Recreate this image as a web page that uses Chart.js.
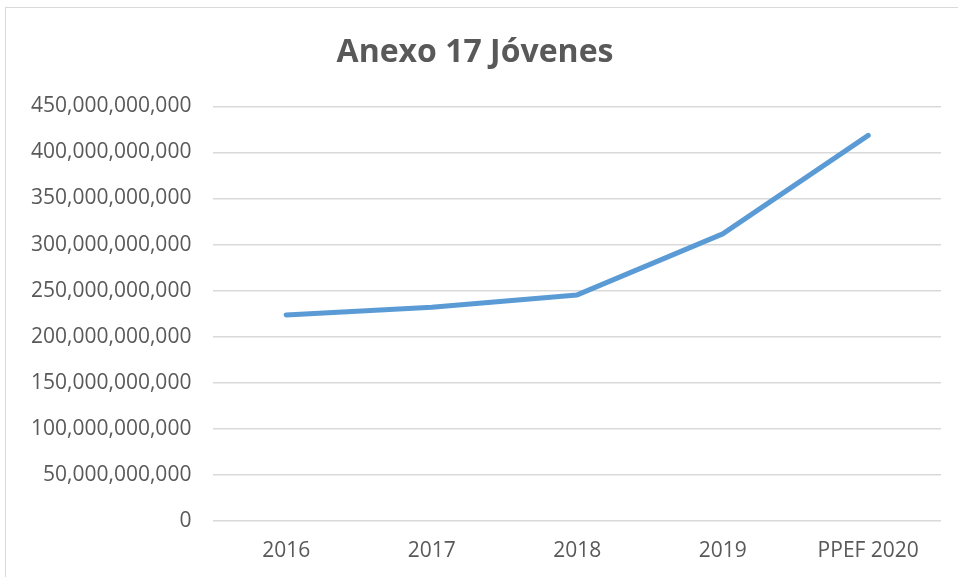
<!DOCTYPE html>
<html>
<head>
<meta charset="utf-8">
<script src="https://cdn.jsdelivr.net/npm/chart.js@4"></script>
<style>
    body { margin: 0; background: #fff; overflow: hidden; }
    #frame {
        position: absolute; left: 5px; top: 7px;
        width: 1000px; height: 620px;
        border: 1px solid #d9d9d9;
    }
    #wrap { position: absolute; left: 0; top: 0; width: 958px; height: 577px; }
</style>
</head>
<body>
<div id="frame"></div>
<div id="wrap"><canvas id="chart" width="958" height="577"></canvas></div>
<script>
// Chart data
const categories = ['2016', '2017', '2018', '2019', 'PPEF 2020'];
const montos = [223.6e9, 231.8e9, 245.3e9, 311.6e9, 418.5e9];
const yTicks = [0, 50e9, 100e9, 150e9, 200e9, 250e9, 300e9, 350e9, 400e9, 450e9];

const textColor = '#595959';
const fontFamily = '"Open Sans", sans-serif';

const ctx = document.getElementById('chart').getContext('2d');
new Chart(ctx, {
    type: 'line',
    data: {
        labels: categories,
        datasets: [{
            label: 'Anexo 17 Jóvenes',
            data: montos,
            borderColor: '#5b9bd5',
            borderWidth: 5,
            borderCapStyle: 'round',
            borderJoinStyle: 'round',
            pointRadius: 0,
            tension: 0,
            fill: false
        }]
    },
    options: {
        responsive: false,
        animation: false,
        layout: { padding: { left: 9, right: 17, top: 14, bottom: -4 } },
        plugins: {
            legend: { display: false },
            tooltip: { enabled: false },
            title: {
                display: true,
                text: 'Anexo 17 Jóvenes',
                color: textColor,
                font: { family: fontFamily, size: 32, weight: 'bold' },
                padding: { top: 20, bottom: 34 }
            }
        },
        scales: {
            x: {
                offset: true,
                grid: { display: false, drawTicks: false },
                border: { display: false },
                ticks: {
                    color: textColor,
                    font: { family: fontFamily, size: 21 },
                    padding: 17.5,
                    maxRotation: 0
                }
            },
            y: {
                min: 0,
                max: 450e9,
                afterBuildTicks: axis => {
                    axis.ticks = yTicks.map(v => ({ value: v }));
                },
                grid: { color: '#d9d9d9', lineWidth: 1.5, drawTicks: false },
                border: { display: false },
                ticks: {
                    color: textColor,
                    font: { family: fontFamily, size: 21 },
                    padding: 22,
                    callback: v => v.toLocaleString('en-US')
                }
            }
        }
    }
});
</script>
</body>
</html>
